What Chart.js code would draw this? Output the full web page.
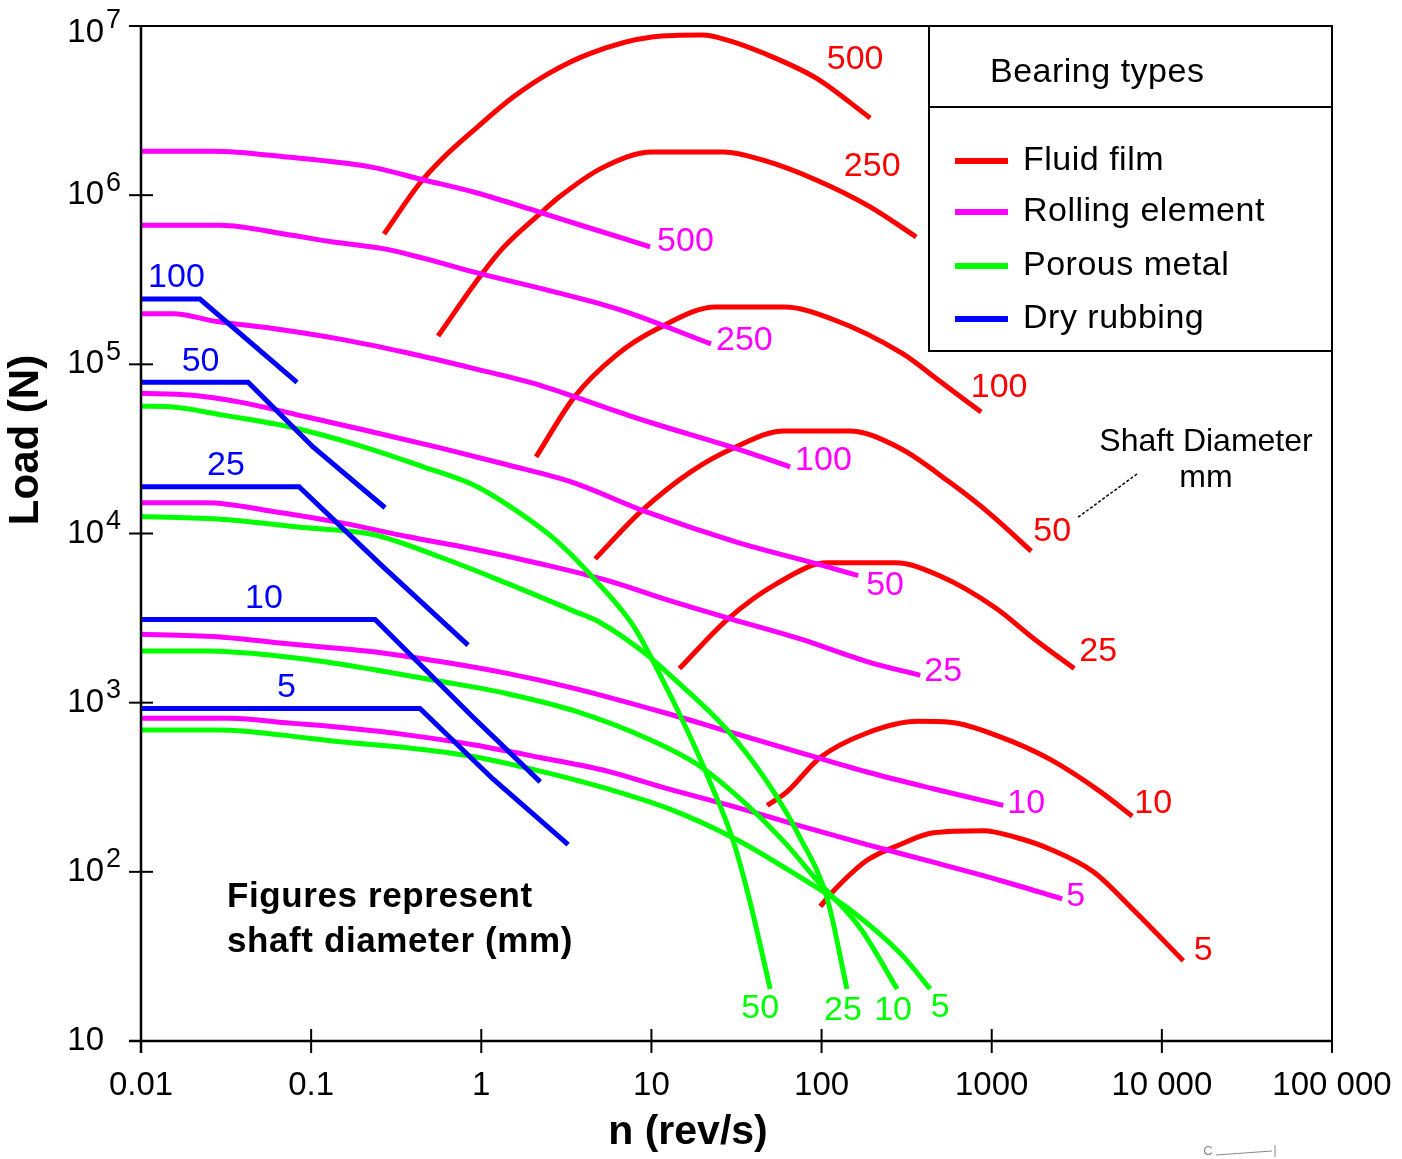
<!DOCTYPE html>
<html><head><meta charset="utf-8">
<script src="https://cdn.jsdelivr.net/npm/chart.js@4/dist/chart.umd.min.js"></script>
<style>html,body{margin:0;padding:0;background:#fff;}canvas{display:block;}</style>
</head><body>
<canvas id="c" width="1402" height="1159"></canvas>
<script>
// ---------- DATA (n in rev/s, load in N) ----------
const xTicks = [0.01, 0.1, 1, 10, 100, 1000, 10000, 100000];
const xTickLabels = ['0.01', '0.1', '1', '10', '100', '1000', '10 000', '100 000'];
const yTicks = [10, 100, 1e3, 1e4, 1e5, 1e6, 1e7];
const yTickExponents = ['', '2', '3', '4', '5', '6', '7'];

const bearingTypes = ['Fluid film', 'Rolling element', 'Porous metal', 'Dry rubbing'];

const fluidDiameters = [500, 250, 100, 50, 25, 10, 5];
const fluid500 = [[0.268,5.89e5],[0.436,1.18e6],[0.596,1.66e6],[0.945,2.52e6],[1.54,3.80e6],[2.51,5.27e6],[4.42,6.92e6],[10.1,8.61e6],[19.9,8.84e6],[27.9,8.26e6],[45.4,6.92e6],[93,4.92e6],[193,2.86e6]];
const fluid250 = [[0.557,1.47e5],[1.0,3.38e5],[1.33,4.83e5],[2.25,7.89e5],[2.87,9.75e5],[5.13,1.45e6],[10.1,1.80e6],[26.7,1.80e6],[45.4,1.61e6],[93,1.23e6],[193,8.53e5],[360,5.66e5]];
const fluid100 = [[2.10,2.84e4],[3.52,6.4e4],[6.20,1.13e5],[10.7,1.61e5],[24.0,2.18e5],[60.3,2.18e5],[114,1.86e5],[298,1.16e5],[505,7.83e4],[867,5.22e4]];
const fluid50 = [[4.67,7.08e3],[8.69,1.35e4],[17.1,2.32e4],[30.6,3.21e4],[60.3,4.04e4],[145,4.04e4],[286,3.21e4],[562,2.02e4],[993,1.29e4],[1706,7.87e3]];
const fluid25 = [[14.6,1.59e3],[27.9,3.10e3],[54.8,5.07e3],[108,6.71e3],[271,6.71e3],[505,5.57e3],[1050,3.64e3],[1778,2.38e3],[3055,1.59e3]];
const fluid10 = [[47.9,247],[62.8,298],[98.2,474],[185,662],[365,776],[570,766],[1122,628],[2208,462],[4345,298],[6700,213]];
const fluid5 = [[98.2,62.4],[117,76.7],[185,117],[290,145],[453,170],[891,175],[1413,159],[2208,136],[3955,100],[6790,59.7],[13360,29.8]];

const rollingDiameters = [500, 250, 100, 50, 25, 10, 5];
const rolling500 = [[0.01,1.82e6],[0.0265,1.82e6],[0.0721,1.68e6],[0.222,1.47e6],[0.461,1.23e6],[0.945,1.03e6],[2.16,7.98e5],[4.02,6.55e5],[9.82,4.95e5]];
const rolling250 = [[0.01,6.64e5],[0.0291,6.64e5],[0.0752,5.81e5],[0.135,5.29e5],[0.265,4.83e5],[0.461,4.23e5],[0.945,3.47e5],[2.51,2.73e5],[6.55,2.10e5],[22.4,1.32e5]];
const rolling100 = [[0.01,1.99e5],[0.0154,1.99e5],[0.028,1.79e5],[0.0597,1.63e5],[0.148,1.41e5],[0.366,1.17e5],[0.895,9.47e4],[2.22,7.52e4],[5.49,5.51e4],[10.1,4.50e4],[30.6,3.21e4],[65.3,2.48e4]];
const rolling50 = [[0.01,6.74e4],[0.0194,6.58e4],[0.0382,5.98e4],[0.0946,4.88e4],[0.231,3.98e4],[0.573,3.21e4],[1.42,2.55e4],[3.47,2.0e4],[9.19,1.35e4],[30.6,8.99e3],[103.5,6.44e3],[164,5.64e3]];
const rolling25 = [[0.01,1.52e4],[0.0244,1.52e4],[0.0597,1.35e4],[0.148,1.16e4],[0.366,9.6e3],[0.895,8.1e3],[2.22,6.63e3],[5.49,5.28e3],[12.4,4.05e3],[30.2,3.1e3],[74.8,2.38e3],[185,1.75e3],[380,1.45e3]];
const rolling10 = [[0.01,2.54e3],[0.0303,2.44e3],[0.0752,2.22e3],[0.231,2.0e3],[0.573,1.75e3],[1.42,1.49e3],[3.47,1.22e3],[12.4,863],[30.2,662],[74.8,507],[185,389],[453,310],[1170,247]];
const rolling5 = [[0.01,809],[0.0333,809],[0.0752,757],[0.163,708],[0.366,645],[0.895,564],[2.22,474],[5.49,394],[12.4,310],[30.2,244],[74.8,187],[185,145],[453,114],[1122,88.9],[2596,69.2]];

const porousDiameters = [50, 25, 10, 5];
const porous50 = [[0.01,5.66e4],[0.0154,5.59e4],[0.0303,5.01e4],[0.0752,4.26e4],[0.186,3.34e4],[0.455,2.48e4],[0.895,1.94e4],[1.42,1.48e4],[2.79,8.99e3],[4.99,4.94e3],[7.8,2.86e3],[11.2,1.47e3],[16.2,689],[22.1,340],[30.2,153],[38.0,66.2],[49.9,20.3]];
const porous25 = [[0.01,1.26e4],[0.0303,1.21e4],[0.0946,1.08e4],[0.231,9.87e3],[0.573,7.26e3],[1.42,5.07e3],[3.47,3.49e3],[4.99,2.98e3],[8.93,2.0e3],[13.4,1.40e3],[27.9,689],[47.9,340],[74.8,159],[108,69.2],[141,20.3]];
const porous10 = [[0.01,2.02e3],[0.0244,2.02e3],[0.0551,1.92e3],[0.117,1.75e3],[0.231,1.57e3],[0.573,1.34e3],[1.42,1.13e3],[3.47,899],[9.82,603],[19.3,421],[34.6,261],[59.4,153],[94.2,88.9],[169,46.4],[278,20.3]];
const porous5 = [[0.01,689],[0.0291,689],[0.0656,645],[0.148,587],[0.366,542],[0.895,481],[2.22,394],[5.49,310],[12.4,238],[30.2,159],[74.8,92.9],[147,59.7],[290,33.0],[435,20.3]];

const dryDiameters = [100, 50, 25, 10, 5];
const dry100 = [[0.01,2.43e5],[0.0222,2.43e5],[0.0826,7.83e4]];
const dry50 = [[0.01,7.83e4],[0.0426,7.83e4],[0.1026,3.25e4],[0.272,1.42e4]];
const dry25 = [[0.01,1.89e4],[0.0849,1.89e4],[0.265,6.35e3],[0.836,2.19e3]];
const dry10 = [[0.01,3.10e3],[0.2375,3.10e3],[0.895,819],[2.22,340]];
const dry5 = [[0.01,923],[0.436,923],[1.17,354],[3.24,145]];

// ---------- STYLE ----------
const COLORS = {fluid: '#ff0000', rolling: '#ff00ff', porous: '#00ff00', dry: '#0000ff'};
const legendColors = [COLORS.fluid, COLORS.rolling, COLORS.porous, COLORS.dry];
const FONT = '"Liberation Sans", Arial, Helvetica, sans-serif';
const fluidLabelOffsets = [[-15,-58],[-44,-70],[18,-24],[21,-19],[24,-17],[21,-13],[20,-10]];
const rollingLabelOffsets = [[7,-5],[5,-3],[5,-6],[8,10],[4,-4],[4,-2],[4,-2]];
const porousLabelOffsets = [[-10,20],[-4,22],[-4,22],[10,19]];

const groups = [
  {kind: 'dry', diam: dryDiameters, curves: [dry100, dry50, dry25, dry10, dry5]},
  {kind: 'porous', diam: porousDiameters, curves: [porous50, porous25, porous10, porous5]},
  {kind: 'rolling', diam: rollingDiameters, curves: [rolling500, rolling250, rolling100, rolling50, rolling25, rolling10, rolling5]},
  {kind: 'fluid', diam: fluidDiameters, curves: [fluid500, fluid250, fluid100, fluid50, fluid25, fluid10, fluid5]},
];

const datasets = [];
groups.forEach(g => {
  g.curves.forEach((c, i) => {
    datasets.push({
      kind: g.kind, diameter: g.diam[i], idx: i,
      data: c.map(p => ({x: p[0], y: p[1]})),
      borderColor: COLORS[g.kind], backgroundColor: COLORS[g.kind],
      borderWidth: 5, pointRadius: 0, fill: false,
      tension: g.kind === 'dry' ? 0 : 0.4,
      cubicInterpolationMode: g.kind === 'dry' ? 'default' : 'monotone',
      borderJoinStyle: 'miter', borderCapStyle: 'butt'
    });
  });
});

function drawLine(ctx, x1, y1, x2, y2) { ctx.beginPath(); ctx.moveTo(x1, y1); ctx.lineTo(x2, y2); ctx.stroke(); }
function drawText(ctx, s, x, y, font, color, align, spacing) {
  ctx.font = font; ctx.fillStyle = color; ctx.textAlign = align || 'left'; ctx.textBaseline = 'middle';
  if ('letterSpacing' in ctx) ctx.letterSpacing = spacing || '0px';
  ctx.fillText(s, x, y);
  if ('letterSpacing' in ctx) ctx.letterSpacing = '0px';
}

const overlay = {
  id: 'overlay',
  afterDatasetsDraw(chart) {
    const ctx = chart.ctx, a = chart.chartArea, xs = chart.scales.x, ys = chart.scales.y;
    ctx.save();
    ctx.strokeStyle = '#000';
    // frame
    ctx.lineWidth = 2;
    ctx.strokeRect(a.left, a.top, a.right - a.left, a.bottom - a.top);
    ctx.lineWidth = 2.5;
    drawLine(ctx, a.left, a.top, a.left, a.bottom + 12);
    drawLine(ctx, a.left - 12, a.bottom, a.right, a.bottom);
    // x ticks + labels
    const tickFont = '33px ' + FONT;
    xTicks.forEach((v, i) => {
      const px = xs.getPixelForValue(v);
      ctx.lineWidth = 2;
      drawLine(ctx, px, a.bottom - 12, px, a.bottom + 12);
      drawText(ctx, xTickLabels[i], px, a.bottom + 45, tickFont, '#000', 'center');
    });
    // y ticks + labels
    yTicks.forEach((v, i) => {
      const py = ys.getPixelForValue(v);
      ctx.lineWidth = 2;
      drawLine(ctx, a.left - 12, py, a.left + 12, py);
      const ly = Math.max(py, a.top + 7);
      drawText(ctx, '10', 104, ly, tickFont, '#000', 'right');
      if (yTickExponents[i]) drawText(ctx, yTickExponents[i], 106, ly - 12, '27px ' + FONT, '#000', 'left');
    });
    // axis titles
    drawText(ctx, 'n (rev/s)', 688, a.bottom + 92, 'bold 41px ' + FONT, '#000', 'center');
    ctx.save();
    ctx.translate(26, 440); ctx.rotate(-Math.PI / 2);
    drawText(ctx, 'Load (N)', 0, 0, 'bold 42px ' + FONT, '#000', 'center');
    ctx.restore();

    // curve labels
    const lblFont = '34px ' + FONT;
    chart.data.datasets.forEach((ds, di) => {
      const pts = chart.getDatasetMeta(di).data;
      const last = pts[pts.length - 1];
      const col = COLORS[ds.kind];
      if (ds.kind === 'fluid') {
        const o = fluidLabelOffsets[ds.idx];
        drawText(ctx, String(ds.diameter), last.x + o[0], last.y + o[1], lblFont, col, 'center');
      } else if (ds.kind === 'rolling') {
        const o = rollingLabelOffsets[ds.idx];
        drawText(ctx, String(ds.diameter), last.x + o[0], last.y + o[1], lblFont, col, 'left');
      } else if (ds.kind === 'porous') {
        const o = porousLabelOffsets[ds.idx];
        drawText(ctx, String(ds.diameter), last.x + o[0], last.y + o[1], lblFont, col, 'center');
      } else {
        const p0 = pts[0], p1 = pts[1];
        drawText(ctx, String(ds.diameter), (p0.x + p1.x) / 2 + 6, p0.y - 21, lblFont, col, 'center');
      }
    });

    // legend box
    const L = a.right - 403, T = a.top, B = a.top + 325, R = a.right;
    ctx.fillStyle = '#fff';
    ctx.fillRect(L, T, R - L, B - T);
    ctx.lineWidth = 2; ctx.strokeStyle = '#000';
    ctx.strokeRect(L, T, R - L, B - T);
    drawLine(ctx, L, T + 81, R, T + 81);
    drawText(ctx, 'Bearing types', L + 61, T + 47, '34px ' + FONT, '#000', 'left', '0.5px');
    const rowY = [135, 186, 240, 293];
    bearingTypes.forEach((name, i) => {
      ctx.strokeStyle = legendColors[i]; ctx.lineWidth = 6;
      drawLine(ctx, L + 26, T + rowY[i], L + 79, T + rowY[i]);
      drawText(ctx, name, L + 94, T + rowY[i], '34px ' + FONT, '#000', 'left', '0.5px');
    });

    // shaft diameter annotation
    drawText(ctx, 'Shaft Diameter', 1206, 442, '32px ' + FONT, '#000', 'center');
    drawText(ctx, 'mm', 1206, 478, '32px ' + FONT, '#000', 'center');
    ctx.strokeStyle = '#000'; ctx.lineWidth = 1.5; ctx.setLineDash([3, 2]);
    drawLine(ctx, 1137, 474, 1077, 518);
    ctx.setLineDash([]);

    // note
    drawText(ctx, 'Figures represent', 227, 897, 'bold 35px ' + FONT, '#000', 'left', '0.6px');
    drawText(ctx, 'shaft diameter (mm)', 227, 942, 'bold 35px ' + FONT, '#000', 'left', '0.6px');

    // small mark bottom right
    drawText(ctx, 'C', 1208, 1151, '13px ' + FONT, '#888', 'center');
    ctx.strokeStyle = '#888'; ctx.lineWidth = 1;
    drawLine(ctx, 1216, 1155, 1272, 1151);
    drawLine(ctx, 1275, 1145, 1275, 1157);
    ctx.restore();
  }
};

new Chart(document.getElementById('c'), {
  type: 'line',
  data: {datasets},
  options: {
    responsive: false, animation: false, devicePixelRatio: 1,
    layout: {padding: {left: 141, right: 70, top: 26, bottom: 118}},
    plugins: {legend: {display: false}, tooltip: {enabled: false}},
    scales: {
      x: {type: 'logarithmic', min: 0.01, max: 1e5,
          ticks: {display: false}, grid: {display: false, drawTicks: false}, border: {display: false},
          afterFit(s) { s.height = 0; }},
      y: {type: 'logarithmic', min: 10, max: 1e7,
          ticks: {display: false}, grid: {display: false, drawTicks: false}, border: {display: false},
          afterFit(s) { s.width = 0; }}
    }
  },
  plugins: [overlay]
});
</script>
</body></html>
